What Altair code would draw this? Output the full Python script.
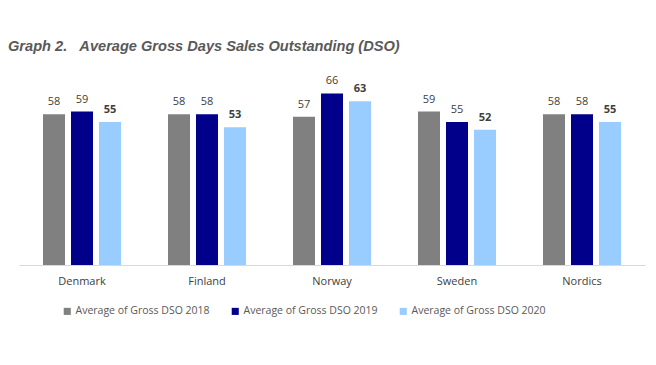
import altair as alt
import pandas as pd

regions = ["Denmark", "Finland", "Norway", "Sweden", "Nordics"]
series = ["Average of Gross DSO 2018", "Average of Gross DSO 2019", "Average of Gross DSO 2020"]
dso_2018 = [58, 58, 57, 59, 58]
dso_2019 = [59, 58, 66, 55, 58]
dso_2020 = [55, 53, 63, 52, 55]
colors = ["#808080", "#00008B", "#99CCFF"]

rows = []
for s, vals in zip(series, [dso_2018, dso_2019, dso_2020]):
    for r, v in zip(regions, vals):
        rows.append({"region": r, "series": s, "value": v,
                     "bold": "bold" if s.endswith("2020") else "normal"})
df = pd.DataFrame(rows)

FONT = "Open Sans"

x = alt.X("region:N", sort=regions, title=None,
          scale=alt.Scale(paddingInner=0.328, paddingOuter=0.168),
          axis=alt.Axis(labelAngle=0, ticks=False, domainColor="#d9d9d9",
                        labelColor="#404040", labelFont=FONT, labelFontSize=11,
                        labelPadding=10, grid=False))
xo = alt.XOffset("series:N", sort=series,
                 scale=alt.Scale(paddingInner=0.214, paddingOuter=0.107))
y = alt.Y("value:Q", scale=alt.Scale(domain=[0, 70]), axis=None)

bars = alt.Chart(df).mark_bar().encode(
    x=x, xOffset=xo, y=y,
    color=alt.Color("series:N", sort=series,
                    scale=alt.Scale(domain=series, range=colors),
                    legend=alt.Legend(title=None, orient="none", direction="horizontal",
                                      legendX=43, legendY=223,
                                      symbolType="square", symbolSize=50,
                                      symbolStrokeWidth=0,
                                      labelFont=FONT, labelFontSize=10.5,
                                      labelColor="#595959", columnPadding=20,
                                      labelOffset=3)),
)

labels_normal = alt.Chart(df[df["bold"] == "normal"]).mark_text(
    dy=-12, font=FONT, fontSize=11, color="#404040"
).encode(x=x, xOffset=xo, y=y, text="value:Q")

labels_bold = alt.Chart(df[df["bold"] == "bold"]).mark_text(
    dy=-12, font=FONT, fontSize=11, color="#404040", fontWeight="bold"
).encode(x=x, xOffset=xo, y=y, text="value:Q")

title_text = "Graph 2.\u00a0\u00a0\u00a0Average Gross Days Sales Outstanding (DSO)"

chart = alt.layer(bars, labels_normal, labels_bold).properties(
    width=626, height=182,
    title=alt.TitleParams(title_text,
                          anchor="start", font="Liberation Sans", fontSize=14.6,
                          fontStyle="italic", fontWeight="bold", color="#595959",
                          offset=22, dx=-11),
    autosize=alt.AutoSizeParams(type="none"),
    padding={"left": 11, "top": 75, "right": 3, "bottom": 90},
).configure_view(stroke=None)

chart.save("out.html", embed_options={"renderer": "svg", "actions": False})
